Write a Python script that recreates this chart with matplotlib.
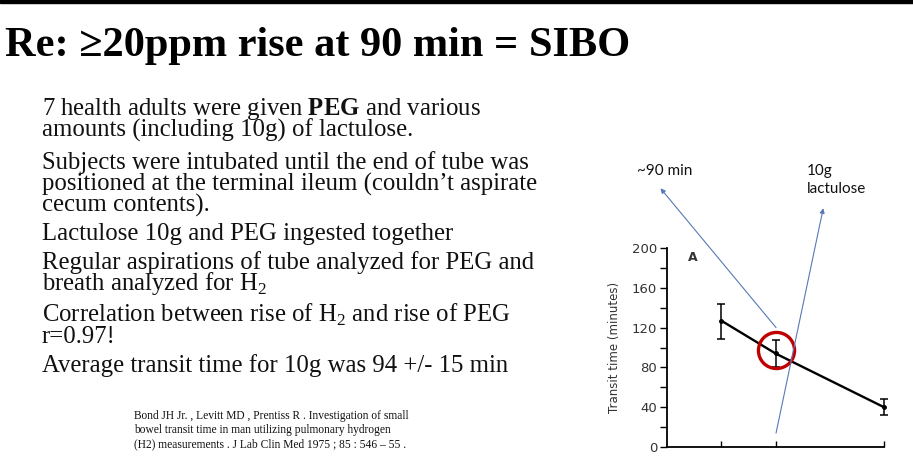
import matplotlib.pyplot as plt
import numpy as np

# values
doses = [5, 10, 20]                 # lactulose dose (g)
transit = [127, 94, 40]             # mean transit time (minutes)
err_low = [18, 14, 8]
err_high = [17, 14, 8]
yticks = [0, 40, 80, 120, 160, 200]
yminor = [20, 60, 100, 140, 180]

# arrow ends (data units): tail -> head
arrow_90 = [(10.05, 120), (-0.6, 260)]
arrow_10g = [(10.05, 14), (14.4, 240)]
circle_at = (10, 97)

title = "Re: \u226520ppm rise at 90 min = SIBO"
body = [
    (115, r"7 health adults were given $\mathbf{PEG}$ and various"),
    (137, "amounts (including 10g) of lactulose."),
    (169, "Subjects were intubated until the end of tube was"),
    (191, "positioned at the terminal ileum (couldn\u2019t aspirate"),
    (212, "cecum contents)."),
    (240, "Lactulose 10g and PEG ingested together"),
    (269, "Regular aspirations of tube analyzed for PEG and"),
    (290, r"breath analyzed for H$_\mathrm{2}$"),
    (322, r"Correlation between rise of H$_\mathrm{2}$ and rise of PEG"),
    (343, "r=0.97!"),
    (372, "Average transit time for 10g was 94 +/- 15 min"),
]
ref = [
    "Bond JH Jr. , Levitt MD , Prentiss R . Investigation of small",
    "bowel transit time in man utilizing pulmonary hydrogen",
    "(H2) measurements . J Lab Clin Med 1975 ; 85 : 546 \u2013 55 .",
]

plt.rcParams['mathtext.fontset'] = 'custom'
plt.rcParams['mathtext.rm'] = 'Liberation Serif'
plt.rcParams['mathtext.bf'] = 'Liberation Serif:bold'

W, H = 913, 466
fig = plt.figure(figsize=(W / 100, H / 100), dpi=100)

def px(x, y):
    return x / W, 1 - y / H

# top bar
fig.patches.append(plt.Rectangle((0, 1 - 3 / H), 1, 3 / H, transform=fig.transFigure,
                                 color='black', zorder=0))

fig.text(*px(5, 56), title, family='Liberation Serif', weight='bold', fontsize=30.5,
         va='baseline')

for yb, line in body:
    fig.text(*px(42, yb), line, family='Liberation Serif', fontsize=17.8, va='baseline',
             color='#111111')

for i, line in enumerate(ref):
    fig.text(*px(134, 419 + 14 * i), line, family='Liberation Serif', fontsize=8.3,
             va='baseline', color='#111111')

# chart
ax = fig.add_axes([667 / W, 1 - 447 / H, (884 - 667) / W, (447 - 248) / H])
ax.set_xlim(0, 20)
ax.set_ylim(0, 200)
for s in ['top', 'right']:
    ax.spines[s].set_visible(False)
for s in ['left', 'bottom']:
    ax.spines[s].set_linewidth(1.3)

ax.plot(doses, transit, color='black', lw=1.7, marker='o', ms=2.5, clip_on=False)
ax.errorbar(doses, transit, yerr=[err_low, err_high], fmt='none', ecolor='black',
            elinewidth=1.1, capsize=3, capthick=1.1, clip_on=False)

ax.set_yticks(yticks)
ax.set_yticks(yminor, minor=True)
ax.set_xticks(doses)
ax.set_xticklabels([])
ax.tick_params(axis='y', which='both', direction='out', length=5, width=1,
               labelsize=9.5, labelcolor='#333333', pad=2)
ax.tick_params(axis='x', direction='in', length=4, width=1)
ax.set_ylabel("Transit time (minutes)", fontsize=8.5, color='#333333', labelpad=8)

ax.text(1.9, 190, "A", fontsize=9, weight='bold', color='#333333', va='center')

# red circle
ax.plot(*circle_at, marker='o', ms=26, mfc='none', mec='#c00000', mew=2.4, clip_on=False)

for tail, head in [arrow_90, arrow_10g]:
    ax.annotate("", xy=head, xytext=tail, annotation_clip=False,
                arrowprops=dict(arrowstyle='-|>', color='#5878b8', lw=0.8,
                                mutation_scale=7, shrinkA=0, shrinkB=0))

fig.text(*px(637, 175), "~90 min", family='Lato', fontsize=11, va='baseline', color='#111111')
fig.text(*px(807, 175), "10g", family='Lato', fontsize=11, va='baseline', color='#111111')
fig.text(*px(807, 193), "lactulose", family='Lato', fontsize=11, va='baseline', color='#111111')

fig.savefig("out.png", dpi=100)
